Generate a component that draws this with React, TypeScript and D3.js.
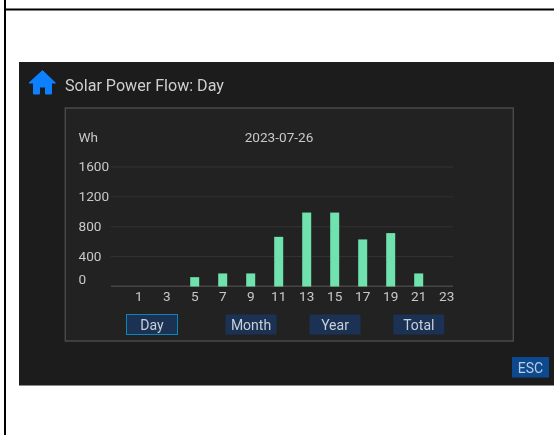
import React from "react";
import * as d3 from "d3";

const hours = [1, 3, 5, 7, 9, 11, 13, 15, 17, 19, 21, 23];
const energy = [0, 0, 125, 175, 175, 665, 990, 990, 630, 715, 175, 0];
const yTicks = [0, 400, 800, 1200, 1600];
const buttons = ["Day", "Month", "Year", "Total"];
const title = "Solar Power Flow: Day";
const dateLabel = "2023-07-26";
const unit = "Wh";

const font = "Roboto, sans-serif";
const buttonCentres = [152, 251, 335, 418.8];

export default function App() {
  const x = d3.scaleLinear().domain([1, 23]).range([138.7, 446.7]);
  const y = d3.scaleLinear().domain([0, 1600]).range([286.5, 167]);
  const barW = 9;
  return (
    <svg width={554} height={435} style={{ position: "absolute", left: 0, top: 0, background: "#fff" }}
      fontFamily={font}>
      <defs>
        <filter id="soft" x="-5%" y="-5%" width="110%" height="110%">
          <feGaussianBlur stdDeviation="0.45" />
        </filter>
      </defs>
      <rect x={4} y={-2} width={2} height={440} fill="#000" />
      <rect x={4} y={8.5} width={552} height={2} fill="#000" />
      <g filter="url(#soft)">
        <rect x={19} y={62} width={537} height={323.5} fill="#1a1a1a" />
        <path d="M42.5 70.5 L55.5 83 L51.5 83 L51.5 94 L45.5 94 L45.5 87 L39.5 87 L39.5 94 L33.5 94 L33.5 83 L29 83 Z"
          fill="#0a80ff" stroke="#0a80ff" strokeWidth={1} strokeLinejoin="round" />
        <text x={65} y={90.5} fontSize={16.1} fill="#cfcfcf">{title}</text>
        <rect x={65.3} y={108} width={448} height={233} fill="#222222" stroke="#4a4a4a" strokeWidth={1.5} />
        <text x={78.5} y={142} fontSize={13.6} fill="#c8c8c8">{unit}</text>
        <text x={279} y={142} fontSize={13.6} fill="#c8c8c8" textAnchor="middle">{dateLabel}</text>
        {yTicks.map((t) => (
          <g key={t}>
            {t > 0 && <line x1={111} x2={453} y1={y(t)} y2={y(t)} stroke="#333333" strokeWidth={1} />}
            <text x={78.5} y={t === 0 ? 283.5 : y(t) + 4} fontSize={13.6} fill="#c8c8c8">{t}</text>
          </g>
        ))}
        <line x1={111} x2={453} y1={286.3} y2={286.3} stroke="#4a4444" strokeWidth={1.5} />
        {hours.map((h, i) => (
          <g key={h}>
            {energy[i] > 0 && (
              <rect x={x(h) - barW / 2} y={y(energy[i])} width={barW} height={y(0) - y(energy[i])} fill="#70e2ad" />
            )}
            <text x={x(h)} y={301} fontSize={13.6} fill="#c8c8c8" textAnchor="middle">{h}</text>
          </g>
        ))}
        {buttons.map((b, i) => {
          const cx = buttonCentres[i];
          return (
            <g key={b}>
              <rect x={cx - 25.5} y={314.5} width={51} height={20} fill="#1b3254"
                stroke={i === 0 ? "#1184b8" : "none"} strokeWidth={1} />
              <text x={cx} y={329.5} fontSize={14} fill="#c8cfd9" textAnchor="middle">{b}</text>
            </g>
          );
        })}
        <rect x={512} y={357} width={37} height={20.5} fill="#0a4a8f" />
        <text x={530.5} y={372.5} fontSize={14} fill="#bccde2" textAnchor="middle">ESC</text>
      </g>
    </svg>
  );
}
